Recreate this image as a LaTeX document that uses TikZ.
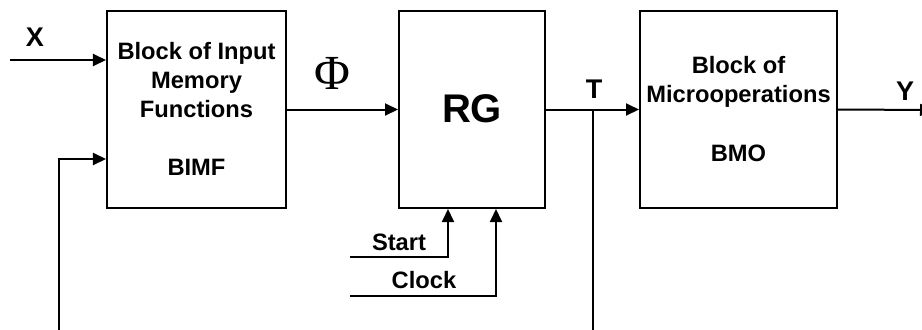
\documentclass[tikz,border=0pt]{standalone}
\usepackage{fontspec}
\setmainfont{Liberation Sans}
\newfontfamily\phifont{Liberation Serif}
\usetikzlibrary{arrows.meta}
\begin{document}
\begin{tikzpicture}[x=1bp,y=-1bp,
  blk/.style={draw,line width=2bp,inner sep=0pt},
  txt/.style={anchor=base,inner sep=0pt,font=\fontsize{23.7bp}{29bp}\selectfont\bfseries},
  sig/.style={anchor=base,inner sep=0pt,font=\fontsize{27bp}{30bp}\selectfont\bfseries},
  wire/.style={line width=2bp},
  arr/.style={line width=2bp,-{Triangle[length=13bp,width=12bp]}}]
\useasboundingbox (0,0) rectangle (922,329);
% boxes
\node[blk,minimum width=179bp,minimum height=197bp] (bimf) at (196.5,109.5) {};
\node[blk,minimum width=146bp,minimum height=197bp] (rg) at (472,109.5) {};
\node[blk,minimum width=197bp,minimum height=197bp] (bmo) at (738.5,109.5) {};
% texts
\node[txt] (t1) at (196.5,59) {Block of Input};
\node[txt] (t2) at (196.5,88) {Memory};
\node[txt] (t3) at (196.5,117) {Functions};
\node[txt] (t4) at (196.5,175) {BIMF};
\node[anchor=base,inner sep=0pt,font=\fontsize{40bp}{40bp}\selectfont\bfseries] (t5) at (472,122) {RG};
\node[txt] (t6) at (738.5,73) {Block of};
\node[txt] (t7) at (738.5,102) {Microoperations};
\node[txt] (t8) at (738.5,161) {BMO};
\node[txt] (lstart) at (399,250) {Start};
\node[txt] (lclock) at (424,288) {Clock};
\node[sig] (lx) at (35,46.5) {X};
\node[sig] (lt) at (594,98.5) {T};
\node[sig] (ly) at (905,100.5) {Y};
\node[anchor=base,inner sep=0pt,font=\fontsize{49bp}{49bp}\selectfont\phifont] (lphi) at (332.5,89.5) {Φ};
% coordinates
\coordinate (xin) at (10,60);
\coordinate (fbbot) at (59,331);
\coordinate (fbcorner) at (59,159);
\coordinate (tbr) at (593,110);
\coordinate (tbot) at (593,331);
\coordinate (sin) at (350,257);
\coordinate (sc) at (448,257);
\coordinate (cin) at (350,296);
\coordinate (cc) at (496,296);
\coordinate (yout) at (933,110);
% connectors
\draw[arr] (xin) -- (xin -| bimf.west);
\draw[arr] (fbbot) -- (fbcorner) -- (fbcorner -| bimf.west);
\draw[arr] (bimf.east) -- (rg.west);
\draw[arr] (rg.east) -- (bmo.west);
\draw[wire] (tbr) -- (tbot);
\draw[arr] (sin) -- (sc) -- (sc |- rg.south);
\draw[arr] (cin) -- (cc) -- (cc |- rg.south);
\draw[arr] (bmo.east) -- (yout);
\end{tikzpicture}
\end{document}
